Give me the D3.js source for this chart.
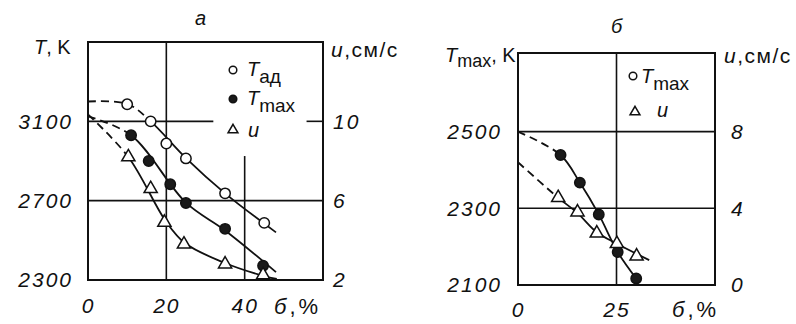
<!DOCTYPE html>
<meta charset="utf-8">
<script src="https://cdnjs.cloudflare.com/ajax/libs/d3/7.8.5/d3.min.js"></script>
<style>
  body { margin:0; background:#fff; }
  svg text { font-family: "Liberation Sans", Arial, sans-serif; fill:#111; }
</style>
<div id="chart"></div>
<script>
// panel "а": T (K) and u (cm/s) vs б (%) -- measured points
const tadA  = [[10,3186],[16,3100],[20,2988],[25,2913],[35,2737],[45,2588]];
const tmaxA = [[11,3030],[15.5,2900],[21,2783],[25,2688],[35,2558],[44.7,2372]];
const uA    = [[10.3,8.2],[16,6.6],[19.5,4.9],[24.5,3.8],[35,2.8],[44.7,2.25]];
// drawn curves (first part dashed)
const tadFitA  = [[0,3200],[10,3188],[16,3100],[25,2915],[35,2737],[48,2540]];
const tmaxFitA = [[0,3125],[11,3030],[25,2690],[35,2550],[48,2340]];
const uFitA    = [[0,10.35],[10.3,8.2],[19.9,4.95],[24.8,3.85],[34.8,2.87],[44.9,2.2],[48.2,2.05]];
const tTicksA = [2300,2700,3100], uTicksA = [2,6,10], xTicksA = [0,20,40];

// panel "б": Tmax (K) and u (cm/s) vs б (%)
const tmaxB = [[10.8,2439],[15.7,2367],[20.5,2284],[25.3,2186],[30,2117]];
const uB    = [[10.2,4.55],[15.1,3.8],[20,2.7],[25.1,2.15],[30.1,1.5]];
const tmaxFitB = [[0,2500],[10.8,2439],[15.7,2367],[20.5,2284],[25.3,2186],[30,2117]];
const uFitB    = [[0,6.4],[10.2,4.55],[15.1,3.75],[20,2.75],[25.1,2.15],[33.3,1.3]];
const tTicksB = [2100,2300,2500], uTicksB = [0,4,8], xTicksB = [0,25];

const W = 796, H = 324, ink = "#111";
const svg = d3.select("#chart").append("svg").attr("width", W).attr("height", H);
svg.append("rect").attr("width", W).attr("height", H).attr("fill", "#fff");
const defs = svg.append("defs");
let clipN = 0;

function marker(g, type, cx, cy, r) {
  if (type === "tri") {
    g.append("path")
      .attr("d", d3.symbol(d3.symbolTriangle, r * r * 2.1)())
      .attr("transform", "translate(" + cx + "," + cy + ")")
      .attr("fill", "#fff").attr("stroke", ink).attr("stroke-width", 1.5);
  } else {
    g.append("circle").attr("cx", cx).attr("cy", cy).attr("r", r)
      .attr("fill", type === "open" ? "#fff" : "#1a1a1a")
      .attr("stroke", ink).attr("stroke-width", 1.5);
  }
}

function drawPanel(p) {
  const g = svg.append("g");
  const x = d3.scaleLinear().domain(p.xDomain).range(p.xRange);
  const y = d3.scaleLinear().domain(p.yDomain).range(p.yRange);
  const yu = d3.scaleLinear().domain(p.uDomain).range(p.yRange);
  const [x0, x1] = p.xRange, [yb, yt] = p.yRange;

  // grid
  p.grid.forEach(s => {
    g.append("line")
      .attr("x1", x(s[0])).attr("y1", y(s[1]))
      .attr("x2", x(s[2])).attr("y2", y(s[3]))
      .attr("stroke", ink).attr("stroke-width", 1.6);
  });
  // frame
  g.append("rect").attr("x", x0).attr("y", yt).attr("width", x1 - x0).attr("height", yb - yt)
    .attr("fill", "none").attr("stroke", ink).attr("stroke-width", 2);

  // axes (labels only)
  const style = a => {
    a.select(".domain").remove();
    a.selectAll("text").attr("font-size", 21).attr("font-style", "italic")
      .attr("letter-spacing", 2).attr("fill", ink).attr("font-family", "Liberation Sans, Arial, sans-serif");
  };
  const fmt = d3.format("d");
  g.append("g").attr("transform", "translate(" + x0 + ",0)")
    .call(d3.axisLeft(y).tickValues(p.tTicks).tickFormat(fmt).tickSize(0).tickPadding(p.padL)).call(style);
  g.append("g").attr("transform", "translate(" + x1 + ",0)")
    .call(d3.axisRight(yu).tickValues(p.uTicks).tickFormat(fmt).tickSize(0).tickPadding(p.padR)).call(style);
  g.append("g").attr("transform", "translate(0," + yb + ")")
    .call(d3.axisBottom(x).tickValues(p.xTicks).tickFormat(fmt).tickSize(0).tickPadding(p.padB)).call(style);

  // curves: dashed up to dashTo, solid after
  p.series.forEach(s => {
    const sc = s.axis === "u" ? yu : y;
    const line = d3.line().x(d => x(d[0])).y(d => sc(d[1])).curve(d3.curveCatmullRom.alpha(0.5));
    const xs = x(s.dashTo);
    const idA = "c" + (clipN++), idB = "c" + (clipN++);
    defs.append("clipPath").attr("id", idA).append("rect")
      .attr("x", x0 - 5).attr("y", 0).attr("width", xs - x0 + 5).attr("height", H);
    defs.append("clipPath").attr("id", idB).append("rect")
      .attr("x", xs).attr("y", 0).attr("width", W - xs).attr("height", H);
    g.append("path").attr("d", line(s.fit)).attr("clip-path", "url(#" + idA + ")")
      .attr("fill", "none").attr("stroke", ink).attr("stroke-width", 1.8).attr("stroke-dasharray", "8,5");
    g.append("path").attr("d", line(s.fit)).attr("clip-path", "url(#" + idB + ")")
      .attr("fill", "none").attr("stroke", ink).attr("stroke-width", 1.8);
  });
  p.series.forEach(s => {
    const sc = s.axis === "u" ? yu : y;
    s.data.forEach(d => marker(g, s.type, x(d[0]), sc(d[1]), s.type === "tri" ? 6 : 5.2));
  });

  // legend
  p.legend.forEach(l => {
    marker(g, l.type, l.mx, l.my, l.type === "tri" ? 4.5 : 3.8);
    const t = g.append("text").attr("x", l.tx).attr("y", l.ty).attr("font-size", 20);
    t.append("tspan").attr("font-style", "italic").text(l.main);
    if (l.sub) t.append("tspan").attr("dy", 7).attr("font-size", 19).text(l.sub);
  });

  // axis titles
  p.titles.forEach(tt => {
    const t = g.append("text").attr("x", tt.x).attr("y", tt.y)
      .attr("font-size", tt.size || 20).attr("letter-spacing", tt.ls || 0);
    tt.parts.forEach(pt => {
      const s = t.append("tspan").text(pt.t);
      if (pt.it) s.attr("font-style", "italic");
      if (pt.dy) s.attr("dy", pt.dy);
      if (pt.fs) s.attr("font-size", pt.fs);
    });
  });
}

drawPanel({
  xDomain: [0, 60], xRange: [88, 323],
  yDomain: [2300, 3500], yRange: [280, 42],
  uDomain: [2, 14],
  tTicks: tTicksA, uTicks: uTicksA, xTicks: xTicksA,
  padL: 15, padR: 10, padB: 18,
  grid: [[20, 2300, 20, 3500], [40, 2300, 40, 2925], [0, 2700, 60, 2700],
         [0, 3100, 32, 3100], [55.8, 3100, 60, 3100]],
  series: [
    {data: tadA, fit: tadFitA, dashTo: 16, axis: "T", type: "open"},
    {data: tmaxA, fit: tmaxFitA, dashTo: 11, axis: "T", type: "fill"},
    {data: uA, fit: uFitA, dashTo: 10.3, axis: "u", type: "tri"}
  ],
  legend: [
    {type: "open", mx: 233, my: 70, tx: 247, ty: 76, main: "T", sub: "ад"},
    {type: "fill", mx: 233, my: 99, tx: 247, ty: 105, main: "T", sub: "max"},
    {type: "tri", mx: 233, my: 130, tx: 248, ty: 137, main: "u"}
  ],
  titles: [
    {x: 195, y: 25, parts: [{t: "а", it: true}]},
    {x: 34, y: 54, parts: [{t: "T", it: true}, {t: ", K"}]},
    {x: 331, y: 57, size: 21, ls: 1.5, parts: [{t: "u", it: true}, {t: ",см/с"}]},
    {x: 274, y: 314, size: 22, ls: 3, parts: [{t: "б", it: true}, {t: ",%"}]}
  ]
});

drawPanel({
  xDomain: [0, 50], xRange: [518, 715],
  yDomain: [2100, 2705], yRange: [285, 53],
  uDomain: [0, 12.1],
  tTicks: tTicksB, uTicks: uTicksB, xTicks: xTicksB,
  padL: 16, padR: 16, padB: 17,
  grid: [[25, 2100, 25, 2705], [0, 2300, 50, 2300], [0, 2500, 50, 2500]],
  series: [
    {data: tmaxB, fit: tmaxFitB, dashTo: 10.8, axis: "T", type: "fill"},
    {data: uB, fit: uFitB, dashTo: 10.2, axis: "u", type: "tri"}
  ],
  legend: [
    {type: "open", mx: 633, my: 76, tx: 641, ty: 83, main: "T", sub: "max"},
    {type: "tri", mx: 635, my: 112, tx: 657, ty: 117, main: "u"}
  ],
  titles: [
    {x: 611, y: 33, parts: [{t: "б", it: true}]},
    {x: 445, y: 62, parts: [{t: "T", it: true}, {t: "max", dy: 5, fs: 18}, {t: ", K", dy: -5}]},
    {x: 724, y: 63, size: 21, ls: 1.5, parts: [{t: "u", it: true}, {t: ",см/с"}]},
    {x: 672, y: 317, size: 22, ls: 3, parts: [{t: "б", it: true}, {t: ",%"}]}
  ]
});
</script>
